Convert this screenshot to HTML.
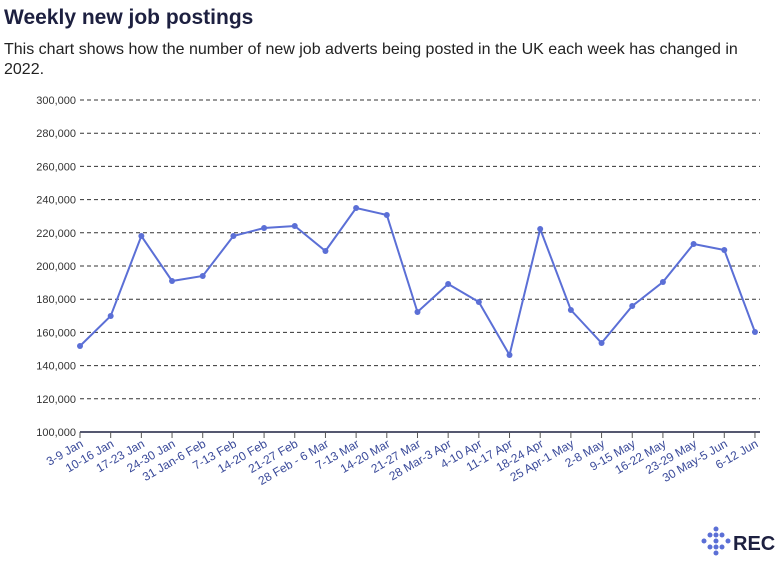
<!DOCTYPE html>
<html><head><meta charset="utf-8"><style>
body{margin:0;width:784px;height:562px;background:#fff;overflow:hidden;font-family:"Liberation Sans",sans-serif}
h1{position:absolute;left:4px;top:6px;margin:0;font-size:21px;font-weight:bold;color:#1d2040}
p{position:absolute;left:4px;top:40px;margin:0;font-size:16px;line-height:20px;color:#222;width:770px}
svg{position:absolute;left:0;top:0}
</style></head><body>
<h1>Weekly new job postings</h1>
<p>This chart shows how the number of new job adverts being posted in the UK each week has changed in 2022.</p>
<svg width="784" height="562" font-family="Liberation Sans, sans-serif">
<g id="g" stroke="#333" stroke-dasharray="4,3" stroke-width="1"></g>
<g id="y" font-size="11" fill="#333" text-anchor="end"></g>
<line x1="80" y1="432" x2="760" y2="432" stroke="#1d2040" stroke-width="1.5"/>
<g id="t" stroke="#555"></g>
<g id="x" font-size="12" fill="#3a4a9a" text-anchor="end"></g>
<polyline id="pl" fill="none" stroke="#5b6fd6" stroke-width="2"/>
<g id="d" fill="#5b6fd6"></g>
<g fill="#5b6fd6">
<circle cx="716" cy="529" r="2.5"/><circle cx="710" cy="535" r="2.5"/><circle cx="716" cy="535" r="2.5"/><circle cx="722" cy="535" r="2.5"/><circle cx="704" cy="541" r="2.5"/><circle cx="716" cy="541" r="2.5"/><circle cx="728" cy="541" r="2.5"/><circle cx="710" cy="547" r="2.5"/><circle cx="716" cy="547" r="2.5"/><circle cx="722" cy="547" r="2.5"/><circle cx="716" cy="553" r="2.5"/>
</g>
<text x="733" y="550" font-size="20" font-weight="bold" fill="#1d2040">REC</text>
</svg>
<script>
var ns="http://www.w3.org/2000/svg";
function el(p,t,a,txt){var e=document.createElementNS(ns,t);for(var k in a)e.setAttribute(k,a[k]);if(txt)e.textContent=txt;document.getElementById(p).appendChild(e);}
for(var i=0;i<=10;i++){var y=432-i*33.2;if(i>0)el("g","line",{x1:80,x2:760,y1:y,y2:y});el("y","text",{x:76,y:y+4},(100+i*20)+",000");}
var L=["3-9 Jan","10-16 Jan","17-23 Jan","24-30 Jan","31 Jan-6 Feb","7-13 Feb","14-20 Feb","21-27 Feb","28 Feb - 6 Mar","7-13 Mar","14-20 Mar","21-27 Mar","28 Mar-3 Apr","4-10 Apr","11-17 Apr","18-24 Apr","25 Apr-1 May","2-8 May","9-15 May","16-22 May","23-29 May","30 May-5 Jun","6-12 Jun"];
var Y=[346,316,236,281,276,236,228,226,251,208,215,312,284,302,355,229,310,343,306,282,244,250,332];
var pts=[];
for(var i=0;i<23;i++){var x=80+i*30.68;pts.push(x+","+Y[i]);
el("t","line",{x1:x,x2:x,y1:432,y2:438});
el("x","text",{transform:"translate("+(x+4)+",446) rotate(-30)"},L[i]);
el("d","circle",{cx:x,cy:Y[i],r:3});}
document.getElementById("pl").setAttribute("points",pts.join(" "));
</script>
</body></html>
